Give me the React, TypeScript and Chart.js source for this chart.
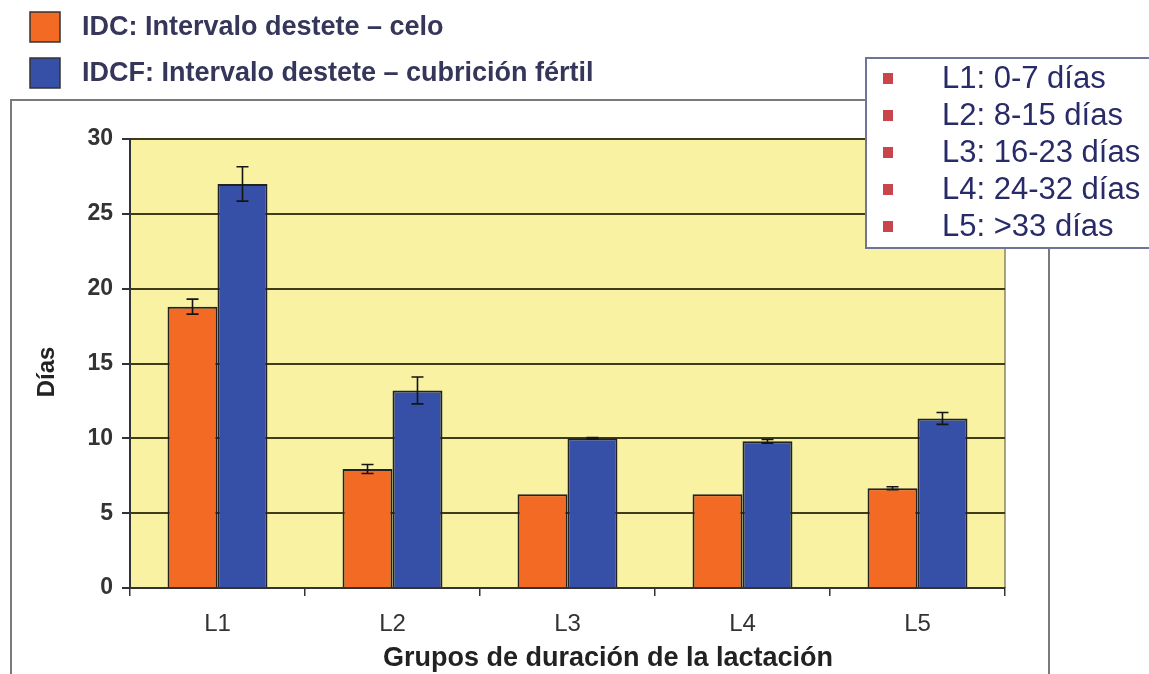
import React, { useEffect, useRef } from "react";
import { Chart, registerables } from "chart.js";

Chart.register(...registerables);

const categories = ["L1", "L2", "L3", "L4", "L5"];
const idcValues = [18.8, 7.95, 6.27, 6.27, 6.67];
const idcErrors = [0.5, 0.3, 0, 0, 0.1];
const idcfValues = [27.0, 13.2, 10.0, 9.8, 11.33];
const idcfErrors = [1.15, 0.9, 0.05, 0.12, 0.4];
const seriesLabels = [
  "IDC: Intervalo destete – celo",
  "IDCF: Intervalo destete – cubrición fértil",
];
const groupLabels = [
  "L1: 0-7 días",
  "L2: 8-15 días",
  "L3: 16-23 días",
  "L4: 24-32 días",
  "L5: >33 días",
];
const yTitle = "Días";
const xTitle = "Grupos de duración de la lactación";

const ORANGE = "#F26A24";
const BLUE = "#3550A6";
const FONT = "'Liberation Sans', Arial, sans-serif";

const decorPlugin = {
  id: "decor",
  beforeDraw(chart: any) {
    const { ctx, chartArea } = chart;
    ctx.save();
    ctx.fillStyle = "#ffffff";
    ctx.fillRect(0, 0, chart.width, chart.height);
    // outer frame
    ctx.strokeStyle = "#7a7a7a";
    ctx.lineWidth = 2;
    ctx.beginPath();
    ctx.moveTo(11, 674);
    ctx.lineTo(11, 100);
    ctx.lineTo(1049, 100);
    ctx.lineTo(1049, 674);
    ctx.stroke();
    // plot background
    ctx.fillStyle = "#F8F2A2";
    ctx.fillRect(
      chartArea.left,
      chartArea.top,
      chartArea.right - chartArea.left,
      chartArea.bottom - chartArea.top
    );
    ctx.strokeStyle = "#8a8660";
    ctx.lineWidth = 1.5;
    ctx.beginPath();
    ctx.moveTo(chartArea.right, chartArea.top);
    ctx.lineTo(chartArea.right, chartArea.bottom);
    ctx.stroke();
    ctx.restore();
  },
  afterDatasetsDraw(chart: any) {
    const { ctx } = chart;
    const yScale = chart.scales.y;
    const errs = [idcErrors, idcfErrors];
    const vals = [idcValues, idcfValues];
    ctx.save();
    ctx.strokeStyle = "#151515";
    ctx.lineWidth = 1.6;
    for (let d = 0; d < 2; d++) {
      const meta = chart.getDatasetMeta(d);
      meta.data.forEach((bar: any, i: number) => {
        const e = errs[d][i];
        if (!e) return;
        const x = bar.x;
        const yt = yScale.getPixelForValue(vals[d][i] + e);
        const yb = yScale.getPixelForValue(vals[d][i] - e);
        ctx.beginPath();
        ctx.moveTo(x, yt);
        ctx.lineTo(x, yb);
        ctx.moveTo(x - 6, yt);
        ctx.lineTo(x + 6, yt);
        ctx.moveTo(x - 6, yb);
        ctx.lineTo(x + 6, yb);
        ctx.stroke();
      });
    }
    ctx.restore();
  },
  afterDraw(chart: any) {
    const { ctx } = chart;
    ctx.save();
    // top legend
    const colors = [ORANGE, BLUE];
    const rowsY = [27, 73];
    for (let i = 0; i < 2; i++) {
      ctx.fillStyle = colors[i];
      ctx.fillRect(30, rowsY[i] - 15, 30, 30);
      ctx.strokeStyle = "#333";
      ctx.lineWidth = 1.5;
      ctx.strokeRect(30, rowsY[i] - 15, 30, 30);
      ctx.fillStyle = "#35365a";
      ctx.font = `bold 27px ${FONT}`;
      ctx.textBaseline = "middle";
      ctx.textAlign = "left";
      ctx.fillText(seriesLabels[i], 82, rowsY[i] + 1);
    }
    // right legend box
    ctx.fillStyle = "#ffffff";
    ctx.fillRect(866, 58, 300, 190);
    ctx.strokeStyle = "#6f7597";
    ctx.lineWidth = 2;
    ctx.strokeRect(866, 58, 300, 190);
    groupLabels.forEach((t, i) => {
      const cy = 78 + i * 37;
      ctx.fillStyle = "#c9454c";
      ctx.fillRect(883, cy - 5, 10, 11);
      ctx.fillStyle = "#282b68";
      ctx.font = `31px ${FONT}`;
      ctx.textBaseline = "middle";
      ctx.textAlign = "left";
      ctx.fillText(t, 942, cy + 1);
    });
    // y title
    ctx.fillStyle = "#222";
    ctx.font = `bold 24px ${FONT}`;
    ctx.translate(47, 372);
    ctx.rotate(-Math.PI / 2);
    ctx.textAlign = "center";
    ctx.textBaseline = "middle";
    ctx.fillText(yTitle, 0, 0);
    ctx.setTransform(1, 0, 0, 1, 0, 0);
    // x title
    ctx.font = `bold 27px ${FONT}`;
    ctx.textAlign = "center";
    ctx.textBaseline = "middle";
    ctx.fillStyle = "#222";
    ctx.fillText(xTitle, 608, 659);
    ctx.restore();
  },
};

export default function App() {
  const ref = useRef<HTMLCanvasElement | null>(null);
  useEffect(() => {
    if (!ref.current) return;
    const chart = new Chart(ref.current, {
      type: "bar",
      data: {
        labels: categories,
        datasets: [
          {
            label: seriesLabels[0],
            data: idcValues,
            backgroundColor: ORANGE,
            borderColor: "#222",
            borderWidth: 2,
            barPercentage: 1,
            categoryPercentage: 0.571,
          },
          {
            label: seriesLabels[1],
            data: idcfValues,
            backgroundColor: BLUE,
            borderColor: "#222",
            borderWidth: 2,
            barPercentage: 1,
            categoryPercentage: 0.571,
          },
        ],
      },
      options: {
        responsive: false,
        animation: false,
        devicePixelRatio: 1,
        layout: { padding: { top: 139, right: 144, left: 0, bottom: 0 } },
        plugins: {
          legend: { display: false },
          tooltip: { enabled: false },
          title: { display: false },
        },
        scales: {
          y: {
            min: 0,
            max: 30,
            ticks: {
              stepSize: 5,
              color: "#333",
              padding: 9,
              font: { family: FONT, size: 23, weight: "bold" },
            },
            grid: {
              color: "#3f3c1c",
              lineWidth: 2,
              tickLength: 8,
              tickColor: "#333",
            },
            border: { display: true, color: "#333", width: 2 },
            afterFit(scale: any) {
              scale.width = 130;
            },
          },
          x: {
            ticks: {
              color: "#333",
              padding: 14,
              font: { family: FONT, size: 24 },
            },
            grid: {
              drawOnChartArea: false,
              offset: true,
              tickLength: 8,
              color: "#333",
              lineWidth: 1.5,
            },
            border: { display: true, color: "#333", width: 2 },
            afterFit(scale: any) {
              scale.height = 86;
            },
          },
        },
      },
      plugins: [decorPlugin],
    });
    return () => chart.destroy();
  }, []);
  return (
    <div style={{ position: "fixed", left: 0, top: 0, width: 1149, height: 674 }}>
      <canvas ref={ref} width={1149} height={674} style={{ width: 1149, height: 674 }} />
    </div>
  );
}
